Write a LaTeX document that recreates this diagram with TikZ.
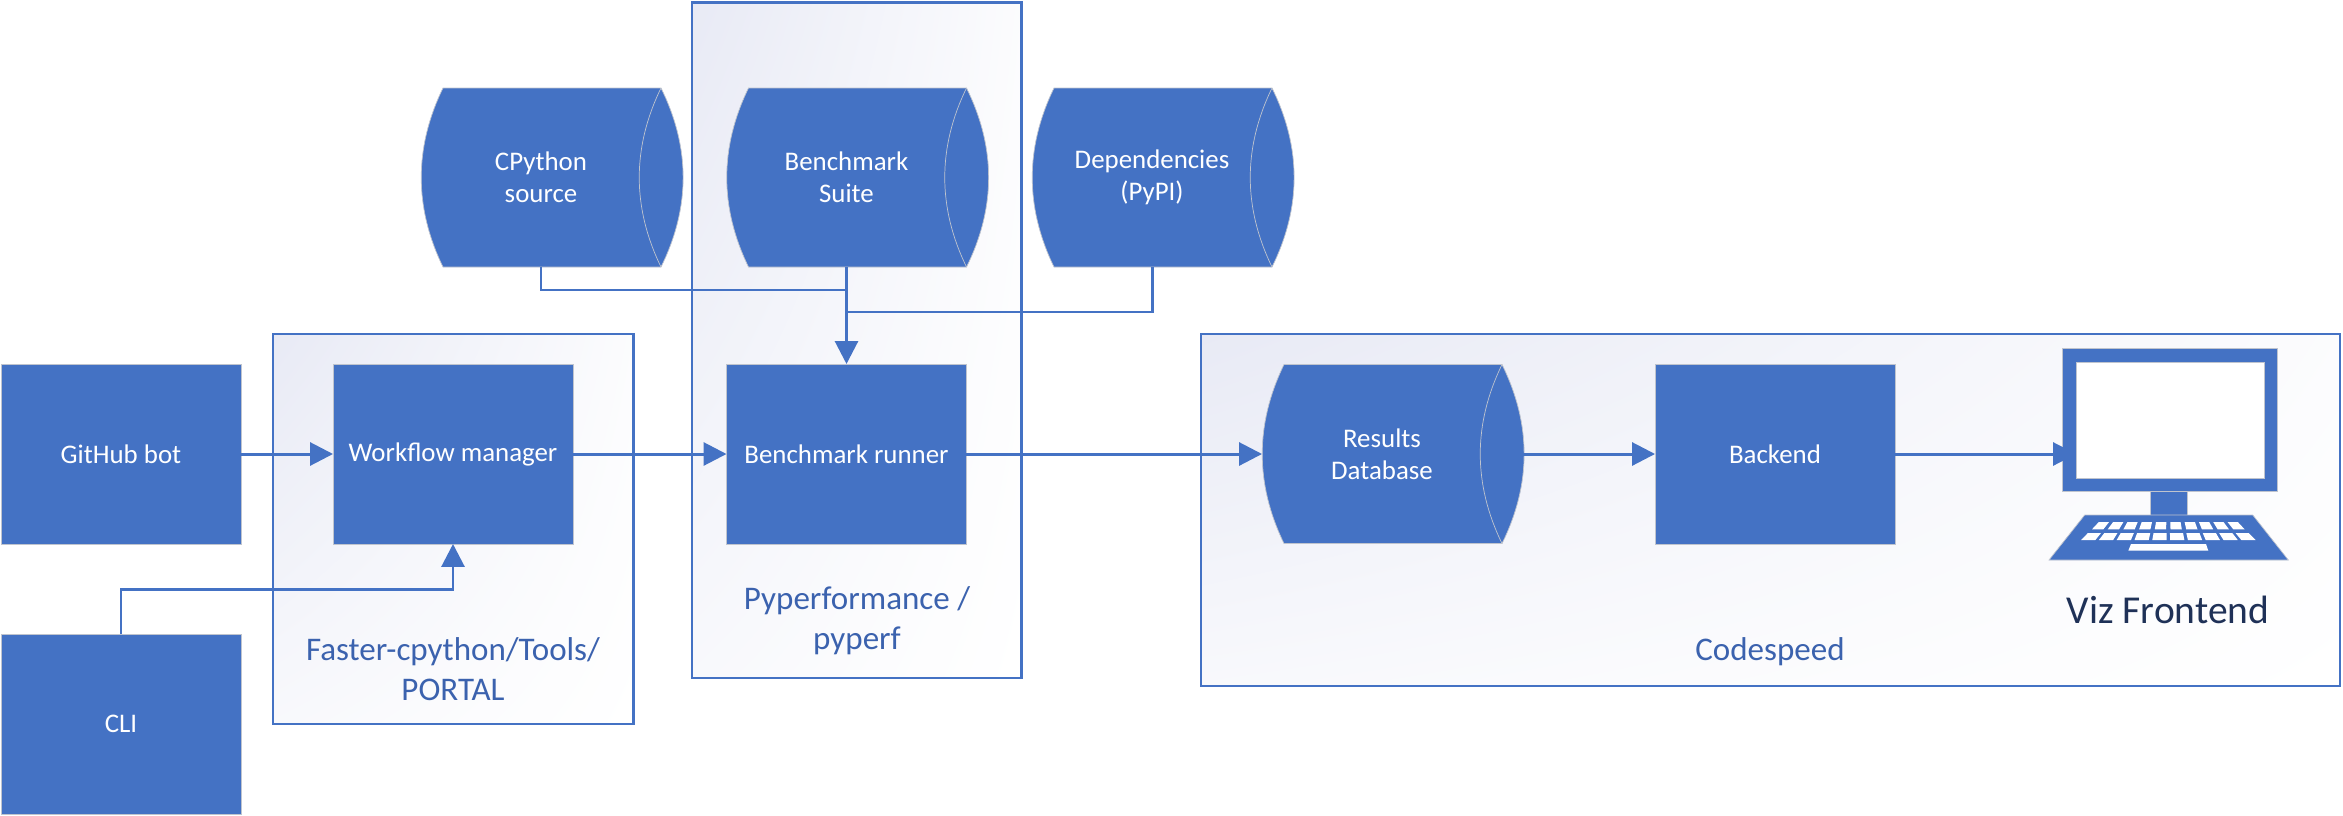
\documentclass[tikz,border=0pt]{standalone}
\usepackage{fontspec}
\setmainfont{Carlito}
\usetikzlibrary{arrows.meta,shadings}
\definecolor{boxblue}{HTML}{4472C4}
\definecolor{edgegray}{HTML}{BFC4CE}
\definecolor{tintblue}{HTML}{E8EAF5}
\definecolor{labelblue}{HTML}{3B62AE}
\definecolor{vizdark}{HTML}{1F3157}
\tikzset{
  block/.style={rectangle, fill=boxblue, draw=edgegray, line width=0.4pt, text=white, outer sep=0pt,
    minimum width=4.8cm, minimum height=3.6cm, font=\fontsize{15.3}{18.2}\selectfont, align=center},
  drum/.style={rectangle, outer sep=0pt, text=white,
    minimum width=4.8cm, minimum height=3.58cm, font=\fontsize{15.3}{18.2}\selectfont, align=center},
  panel/.style={draw=boxblue, line width=1.3pt, upper left=tintblue, upper right=tintblue!15, lower left=tintblue!30, lower right=white},
  grouplabel/.style={text=labelblue, font=\fontsize{18.8}{22.8}\selectfont, align=center},
  link/.style={draw=boxblue, line width=1.7pt},
  flow/.style={link, -{Triangle[length=4.6mm, width=4.6mm]}},
  pics/drumbody/.style={code={
    \draw[fill=boxblue, draw=edgegray, line width=0.4pt] (-98,-89.5) -- (120,-89.5)
      .. controls (149.5,-30) and (149.5,30) .. (120,89.5) -- (-98,89.5)
      .. controls (-127,30) and (-127,-30) .. cycle;
    \draw[draw=edgegray, line width=0.4pt] (120,-89.5) .. controls (91,-30) and (91,30) .. (120,89.5);
  }}
}
\begin{document}
\begin{tikzpicture}[x=0.02cm, y=-0.02cm]
  \useasboundingbox (0,0) rectangle (2343,815);
  % groups
  \shade[panel] (273,334) rectangle (633.5,724);
  \shade[panel] (692,2.5) rectangle (1021.5,678);
  \shade[panel] (1201,334) rectangle (2340,686);
  \node[grouplabel] (toolslabel) at (453,669) {Faster-cpython/Tools/\\PORTAL};
  \node[grouplabel] (pyperflabel) at (857,621) {Pyperformance /\\pyperf};
  \node[grouplabel] (codespeedlabel) at (1770,652) {Codespeed};
  % stores
  \pic at (541,177.5) {drumbody};
  \node[drum] (cpython) at (541,177.5) {CPython\\source};
  \pic at (846.5,177.5) {drumbody};
  \node[drum] (suite) at (846.5,177.5) {Benchmark\\Suite};
  \pic at (1152,177.5) {drumbody};
  \node[drum] (deps) at (1152,177.5) {Dependencies\\(PyPI)};
  \pic at (1382,454) {drumbody};
  \node[drum] (results) at (1382,454) {Results\\Database};
  % boxes
  \node[block] (bot) at (121,454) {GitHub bot};
  \node[block] (cli) at (121,724) {CLI};
  \node[block] (manager) at (453,454) {Workflow manager};
  \node[block] (runner) at (846.5,454) {Benchmark runner};
  \node[block] (backend) at (1775,454) {Backend};
  % frontend
  \draw[fill=boxblue, draw=edgegray, line width=0.4pt] (2150,491) rectangle (2187.3,515);
  \draw[fill=boxblue, draw=edgegray, line width=0.4pt] (2062.7,348) rectangle (2277,491.3);
  \node[rectangle, fill=white, draw=edgegray, line width=0.4pt, outer sep=0pt,
    minimum width=3.76cm, minimum height=2.334cm] (screen) at (2170,420.3) {};
  \draw[fill=boxblue, draw=edgegray, line width=0.4pt] (2084.7,515) -- (2252.7,515) -- (2288.3,560) -- (2049,560) -- cycle;
  \foreach \t in {-4.5,-3.5,...,4.5} {
    \fill[white] ({2168.3+(\t-0.36)*14.3},522) -- ({2168.3+(\t+0.36)*14.3},522)
      -- ({2168.3+(\t+0.36)*15.7},529.3) -- ({2168.3+(\t-0.36)*15.7},529.3) -- cycle;
    \fill[white] ({2168.3+(\t-0.4)*16.4},533) -- ({2168.3+(\t+0.4)*16.4},533)
      -- ({2168.3+(\t+0.4)*17.8},540) -- ({2168.3+(\t-0.4)*17.8},540) -- cycle;
  }
  \fill[white] (2131,544) -- (2206,544) -- (2208.3,550.7) -- (2128.3,550.7) -- cycle;
  \node[text=vizdark, font=\fontsize{22.5}{26}\selectfont] (vizlabel) at (2168,610) {Viz Frontend};
  % connectors
  \draw[link] (cpython.south) |- (846.5,290);
  \draw[link] (deps.south) |- (846.5,312);
  \draw[flow] (suite.south) -- (runner.north);
  \draw[flow] (bot.east) -- (manager.west);
  \draw[flow] (cli.north) |- (453,589) -- (manager.south);
  \draw[flow] (manager.east) -- (runner.west);
  \draw[flow] (runner.east) -- (results.west);
  \draw[flow] (results.east) -- (backend.west);
  \draw[flow] (backend.east) -- (backend.east -| screen.west);
\end{tikzpicture}
\end{document}
